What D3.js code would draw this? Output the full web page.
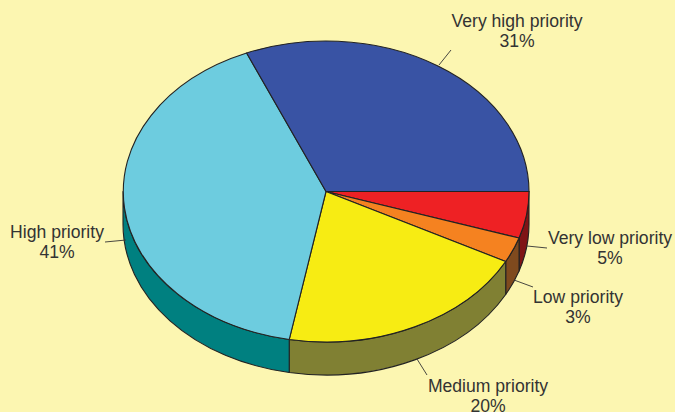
<!DOCTYPE html>
<html><head><meta charset="utf-8">
<script src="https://cdn.jsdelivr.net/npm/d3@7"></script>
<style>html,body{margin:0;padding:0;background:#FCF6B1;overflow:hidden}svg{display:block}text{font-family:"Liberation Sans",Arial,sans-serif;font-size:17.6px;fill:#333}</style>
</head><body><svg id="c" width="675" height="412"></svg>
<script>
const categories=["Very low priority","Low priority","Medium priority","High priority","Very high priority"];
const values=[5.0,2.7,20.2,40.7,31.4];
const topColors=["#EE2124","#F58220","#F7EC13","#6DCCDF","#3953A4"];
const wallColors=["#7F1416","#7F4A1E","#808033","#008080","#3953A4"];
const labelPos=[[610,244],[578,303],[488,392],[57,238],[517,27]];
const leaders=[[[527,246],[547,248]],[[514,280],[533,287]],[[417,359],[427,375]],[[126,240],[105,242]],[[439,65],[451,50]]];

const W=675,H=412,cx=326,cy=191.5,rx=203,ry=150.5,depth=33,stroke="#222";
const svg=d3.select("#c");
svg.append("rect").attr("width",W).attr("height",H).attr("fill","#FCF6B1");
const pie=d3.pie().value(d=>d).sort(null).startAngle(Math.PI/2).endAngle(Math.PI*2.5);
const arcs=pie(values);
const px=a=>cx+rx*Math.sin(a), py=a=>cy-ry*Math.cos(a);
const g=svg.append("g");
arcs.forEach((d,i)=>{
  const a0=Math.max(d.startAngle,Math.PI/2),a1=Math.min(d.endAngle,Math.PI*1.5);
  if(a1<=a0)return;
  const A=(x,y,sw)=>`A${rx},${ry} 0 0 ${sw} ${x},${y}`;
  g.append("path")
   .attr("d",`M${px(a0)},${py(a0)} ${A(px(a1),py(a1),1)} L${px(a1)},${py(a1)+depth} ${A(px(a0),py(a0)+depth,0)} Z`)
   .attr("fill",wallColors[i]).attr("stroke",stroke).attr("stroke-width",1.1).attr("stroke-linejoin","round");
});
const arc=d3.arc().innerRadius(0).outerRadius(1);
g.append("g").attr("transform",`translate(${cx},${cy}) scale(${rx},${ry})`)
 .selectAll("path").data(arcs).join("path")
 .attr("d",arc).attr("fill",(d,i)=>topColors[i])
 .attr("stroke",stroke).attr("stroke-width",1.1).attr("vector-effect","non-scaling-stroke").attr("stroke-linejoin","round");
svg.append("g").selectAll("line").data(leaders).join("line")
 .attr("x1",d=>d[0][0]).attr("y1",d=>d[0][1]).attr("x2",d=>d[1][0]).attr("y2",d=>d[1][1])
 .attr("stroke","#333").attr("stroke-width",0.9);
const lab=svg.append("g").selectAll("text").data(categories).join("text")
 .attr("text-anchor","middle")
 .attr("transform",(d,i)=>`translate(${labelPos[i][0]},${labelPos[i][1]})`);
lab.append("tspan").attr("x",0).attr("y",0).text(d=>d);
lab.append("tspan").attr("x",0).attr("y",20).text((d,i)=>Math.round(values[i])+"%");
</script></body></html>
